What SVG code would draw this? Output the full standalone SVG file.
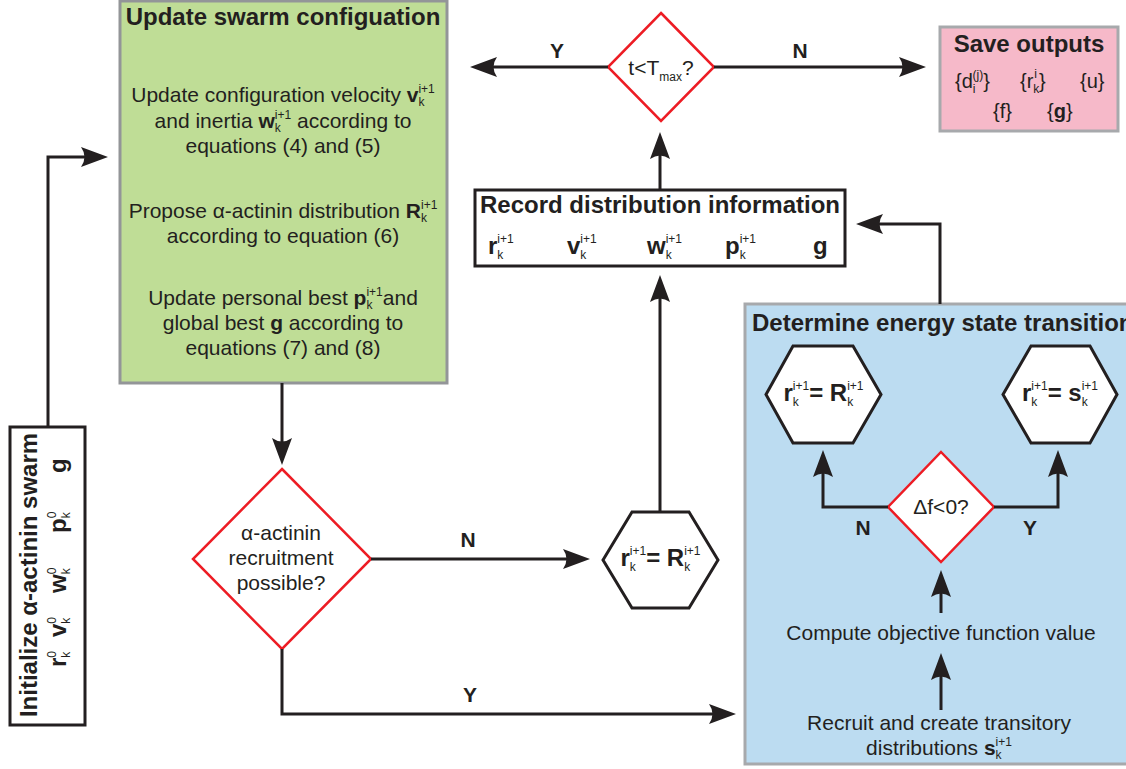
<svg xmlns="http://www.w3.org/2000/svg" width="1126" height="769" viewBox="0 0 1126 769">
<defs>
<style>
text{font-family:"Liberation Sans",Arial,sans-serif;fill:#231f20;}
.ti{font-size:24px;font-weight:bold;}
.bd{font-size:21px;}
.b{font-weight:bold;}
.s{font-size:12px;font-weight:normal;}
.lab{font-size:21px;font-weight:bold;}
.ln{fill:none;stroke:#231f20;stroke-width:3;marker-end:url(#ah);}
.dia{fill:#fff;stroke:#ed1c24;stroke-width:2.5;}
.hex{fill:#fff;stroke:#231f20;stroke-width:3;}
</style>
<marker id="ah" viewBox="-20 -11 29 22" refX="0" refY="0" markerWidth="29" markerHeight="22" markerUnits="userSpaceOnUse" orient="auto">
<path d="M8,0 L-19,-10 Q-12,0 -19,10 Z" fill="#231f20"/>
</marker>
</defs>

<g id="update-swarm">
<rect x="120" y="1" width="327" height="382" fill="#bfdd96" stroke="#939598" stroke-width="3"/>
<text class="ti" x="283" y="25" text-anchor="middle">Update swarm configuation</text>
<text class="bd" x="283" y="102" text-anchor="middle">Update configuration velocity <tspan class="b">v</tspan><tspan class="s" dy="4">k</tspan><tspan class="s" dx="-6" dy="-13">i+1</tspan></text>
<text class="bd" x="283" y="128" text-anchor="middle">and inertia <tspan class="b">w</tspan><tspan class="s" dy="4">k</tspan><tspan class="s" dx="-6" dy="-13">i+1</tspan><tspan dy="9"> according to</tspan></text>
<text class="bd" x="283" y="153" text-anchor="middle">equations (4) and (5)</text>
<text class="bd" x="283" y="218" text-anchor="middle">Propose α-actinin distribution <tspan class="b">R</tspan><tspan class="s" dy="4">k</tspan><tspan class="s" dx="-6" dy="-13">i+1</tspan></text>
<text class="bd" x="283" y="243" text-anchor="middle">according to equation (6)</text>
<text class="bd" x="283" y="305" text-anchor="middle">Update personal best <tspan class="b">p</tspan><tspan class="s" dy="4">k</tspan><tspan class="s" dx="-6" dy="-13">i+1</tspan><tspan dy="9">and</tspan></text>
<text class="bd" x="283" y="330" text-anchor="middle">global best <tspan class="b">g</tspan> according to</text>
<text class="bd" x="283" y="355" text-anchor="middle">equations (7) and (8)</text>
</g>

<g id="initialize">
<rect x="10" y="427" width="75" height="298" fill="#fff" stroke="#231f20" stroke-width="3"/>
<text class="ti" transform="translate(37,575) rotate(-90)" text-anchor="middle">Initialize α-actinin swarm</text>
<g transform="translate(66,667) rotate(-90)">
<text x="0" y="0" font-size="24"><tspan class="b">r</tspan><tspan class="s" dy="4">k</tspan><tspan class="s" dx="-6" dy="-14">0</tspan></text>
<text x="30" y="0" font-size="24"><tspan class="b">v</tspan><tspan class="s" dy="4">k</tspan><tspan class="s" dx="-6" dy="-14">0</tspan></text>
<text x="74" y="0" font-size="24"><tspan class="b">w</tspan><tspan class="s" dy="4">k</tspan><tspan class="s" dx="-6" dy="-14">0</tspan></text>
<text x="134" y="0" font-size="24"><tspan class="b">p</tspan><tspan class="s" dy="4">k</tspan><tspan class="s" dx="-6" dy="-14">0</tspan></text>
<text x="194" y="0" font-size="24" class="b">g</text>
</g>
</g>

<g id="tmax-decision">
<polygon class="dia" points="661,13 714,67 661,121 608,67"/>
<text x="661" y="75" font-size="21" text-anchor="middle">t&lt;T<tspan class="s" dy="6">max</tspan><tspan dy="-6">?</tspan></text>
</g>

<g id="save-outputs">
<rect x="940" y="27" width="178" height="104" fill="#f6b9c9" stroke="#a7a9ac" stroke-width="3"/>
<text class="ti" x="1029" y="52" text-anchor="middle">Save outputs</text>
<text x="955" y="88" font-size="20">{d<tspan class="s" dy="5">i</tspan><tspan class="s" dx="-3" dy="-14">(j)</tspan><tspan dy="9">}</tspan></text>
<text x="1020" y="88" font-size="20">{r<tspan class="s" dy="5">k</tspan><tspan class="s" dx="-5" dy="-15">i</tspan><tspan dx="2" dy="10">}</tspan></text>
<text x="1080" y="88" font-size="20">{u}</text>
<text x="993" y="118" font-size="20">{f}</text>
<text x="1047" y="118" font-size="20">{<tspan class="b">g</tspan>}</text>
</g>

<g id="record">
<rect x="475" y="190" width="370" height="76" fill="#fff" stroke="#231f20" stroke-width="3"/>
<text class="ti" x="660" y="213" text-anchor="middle">Record distribution information</text>
<text x="488" y="254" font-size="24"><tspan class="b">r</tspan><tspan class="s" dy="5">k</tspan><tspan class="s" dx="-6" dy="-16">i+1</tspan></text>
<text x="567" y="254" font-size="24"><tspan class="b">v</tspan><tspan class="s" dy="5">k</tspan><tspan class="s" dx="-6" dy="-16">i+1</tspan></text>
<text x="647" y="254" font-size="24"><tspan class="b">w</tspan><tspan class="s" dy="5">k</tspan><tspan class="s" dx="-6" dy="-16">i+1</tspan></text>
<text x="725" y="254" font-size="24"><tspan class="b">p</tspan><tspan class="s" dy="5">k</tspan><tspan class="s" dx="-6" dy="-16">i+1</tspan></text>
<text x="813" y="254" font-size="24" class="b">g</text>
</g>

<g id="recruit-decision">
<polygon class="dia" points="282,469 371,559 282,649 193,559"/>
<text class="bd" x="281" y="540" text-anchor="middle">α-actinin</text>
<text class="bd" x="281" y="565" text-anchor="middle">recruitment</text>
<text class="bd" x="281" y="590" text-anchor="middle">possible?</text>
</g>

<g id="hex-middle">
<polygon class="hex" points="603,560 632,512 689,512 718,560 689,608 632,608"/>
<text x="660.5" y="566" font-size="24" text-anchor="middle"><tspan class="b">r</tspan><tspan class="s" dy="5">k</tspan><tspan class="s" dx="-6" dy="-16">i+1</tspan><tspan class="b" dy="11">= R</tspan><tspan class="s" dy="5">k</tspan><tspan class="s" dx="-6" dy="-16">i+1</tspan></text>
</g>

<g id="energy-transition">
<rect x="745" y="304" width="400" height="460" fill="#bcdcf1" stroke="#a7a9ac" stroke-width="3"/>
<text class="ti" x="752" y="331">Determine energy state transition</text>
<text class="bd" x="941" y="640" text-anchor="middle">Compute objective function value</text>
<text class="bd" x="939" y="730" text-anchor="middle">Recruit and create transitory</text>
<text class="bd" x="939" y="755" text-anchor="middle">distributions <tspan class="b">s</tspan><tspan class="s" dy="4">k</tspan><tspan class="s" dx="-6" dy="-13">i+1</tspan></text>
</g>

<g id="hex-left">
<polygon class="hex" points="766,394.5 793,346 853,346 881,394.5 853,443 793,443"/>
<text x="823.5" y="401" font-size="24" text-anchor="middle"><tspan class="b">r</tspan><tspan class="s" dy="5">k</tspan><tspan class="s" dx="-6" dy="-16">i+1</tspan><tspan class="b" dy="11">= R</tspan><tspan class="s" dy="5">k</tspan><tspan class="s" dx="-6" dy="-16">i+1</tspan></text>
</g>

<g id="hex-right">
<polygon class="hex" points="1003,394.5 1031,346 1090,346 1117,394.5 1090,443 1031,443"/>
<text x="1060" y="401" font-size="24" text-anchor="middle"><tspan class="b">r</tspan><tspan class="s" dy="5">k</tspan><tspan class="s" dx="-6" dy="-16">i+1</tspan><tspan class="b" dy="11">= s</tspan><tspan class="s" dy="5">k</tspan><tspan class="s" dx="-6" dy="-16">i+1</tspan></text>
</g>

<g id="df-decision">
<polygon class="dia" points="941,452 994,507 941,562 888,507"/>
<text x="941" y="514" font-size="21" text-anchor="middle">Δf&lt;0?</text>
</g>

<g id="connectors">
<polyline class="ln" points="48,427 48,157 100,157"/>
<polyline class="ln" points="282,383 282,457"/>
<polyline class="ln" points="371,559 582,559"/>
<polyline class="ln" points="282,649 282,714 728,714"/>
<polyline class="ln" points="660,512 660,283"/>
<polyline class="ln" points="660,190 660,140"/>
<polyline class="ln" points="608,67 478,67"/>
<polyline class="ln" points="714,67 918,67"/>
<polyline class="ln" points="940,304 940,224 864,224"/>
<polyline class="ln" points="888,507 823,507 823,458"/>
<polyline class="ln" points="994,507 1058,507 1058,458"/>
<polyline class="ln" points="941,613 941,578"/>
<polyline class="ln" points="941,710 941,661"/>
<text class="lab" x="557" y="58" text-anchor="middle">Y</text>
<text class="lab" x="800" y="58" text-anchor="middle">N</text>
<text class="lab" x="468" y="547" text-anchor="middle">N</text>
<text class="lab" x="470" y="702" text-anchor="middle">Y</text>
<text class="lab" x="863" y="535" text-anchor="middle">N</text>
<text class="lab" x="1030" y="535" text-anchor="middle">Y</text>
</g>
</svg>
